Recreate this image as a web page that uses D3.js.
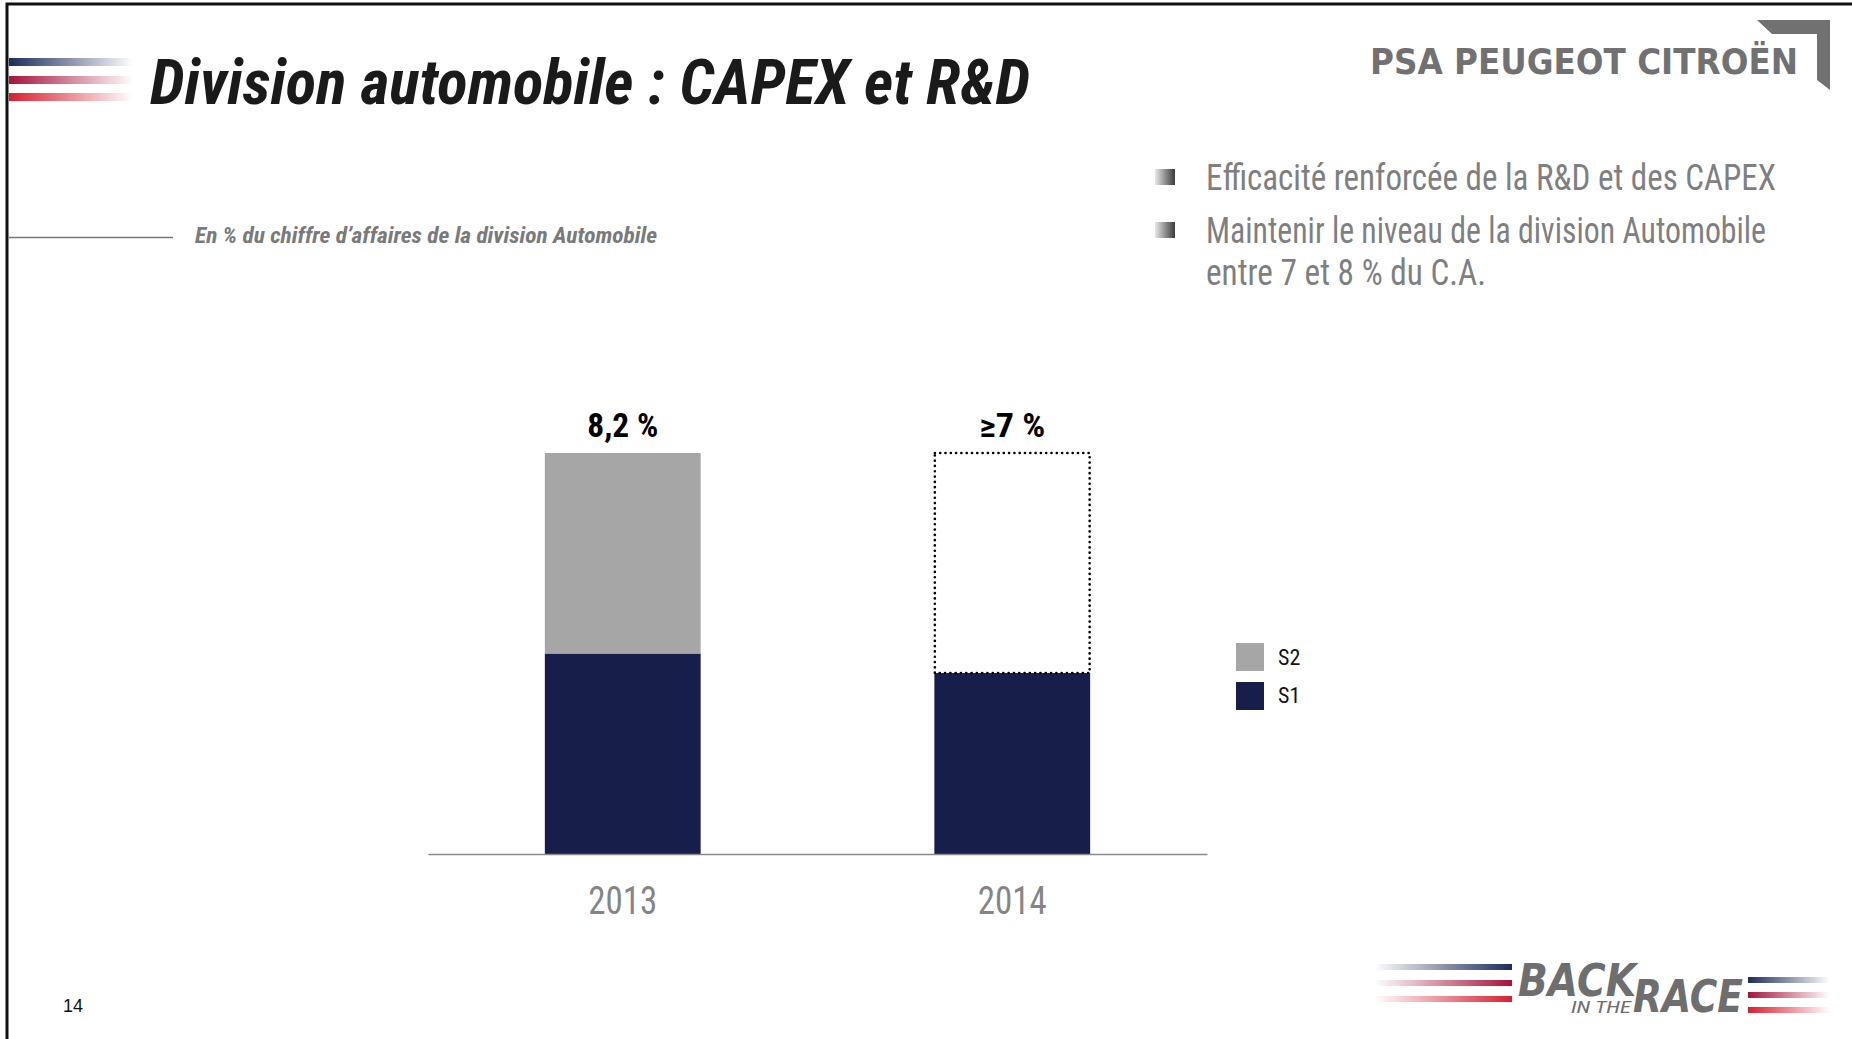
<!DOCTYPE html>
<html>
<head>
<meta charset="utf-8">
<script src="https://cdn.jsdelivr.net/npm/d3@7"></script>
<style>
  body { margin: 0; background: #fff; }
  svg { display: block; }
</style>
</head>
<body>
<svg id="chart" width="1852" height="1039"></svg>
<script>
// chart data
const years = ['2013', '2014'];
const s1 = [4.1, 3.7];
const s2 = [4.1, null];          // 2014 split not given
const targetTotal = [null, 8.2]; // dotted box drawn for 2014
const totalLabels = ['8,2 %', '≥7 %'];
const legendKeys = ['S2', 'S1'];
const bullets = [
  ['Efficacité renforcée de la R&D et des CAPEX'],
  ['Maintenir le niveau de la division Automobile', 'entre 7 et 8 % du C.A.'],
];

const W = 1852, H = 1039;
const narrow = "'Liberation Sans Narrow','Arial Narrow','Roboto Condensed',sans-serif";
const colors = { S1: '#171e4a', S2: '#a6a6a6' };

const svg = d3.select('#chart');
const defs = svg.append('defs');

// helper: squeeze text to a measured width
const fit = (sel, w) => sel.attr('textLength', w).attr('lengthAdjust', 'spacingAndGlyphs');

// fading stripe gradients
const stripe = (id, c, flip) => {
  const g = defs.append('linearGradient').attr('id', id);
  g.append('stop').attr('offset', '0%').attr('stop-color', c).attr('stop-opacity', flip ? 0 : 1);
  g.append('stop').attr('offset', '100%').attr('stop-color', c).attr('stop-opacity', flip ? 1 : 0);
};
stripe('gBlueR', '#1c2c5c', false);
stripe('gCrimR', '#a8123c', false);
stripe('gRedR', '#d8202e', false);
stripe('gBlueL', '#1c2c5c', true);
stripe('gCrimL', '#a8123c', true);
stripe('gRedL', '#d8202e', true);
const bg = defs.append('linearGradient').attr('id', 'gBullet');
bg.append('stop').attr('offset', '0%').attr('stop-color', '#e8e8e8');
bg.append('stop').attr('offset', '100%').attr('stop-color', '#3a3a3a');

// frame
svg.append('path')
  .attr('d', `M7,${H} V4 H${W}`)
  .attr('fill', 'none').attr('stroke', '#111').attr('stroke-width', 3);

// left flag stripes
[['gBlueR', 58], ['gCrimR', 76], ['gRedR', 93]].forEach(([g, y]) => {
  svg.append('rect').attr('x', 9).attr('y', y).attr('width', 124).attr('height', 8)
    .attr('fill', `url(#${g})`);
});

// title
svg.append('text')
  .attr('x', 150).attr('y', 104)
  .attr('font-family', narrow).attr('font-size', 62)
  .attr('font-weight', 'bold').attr('font-style', 'italic')
  .attr('fill', '#1a1a1a')
  .text('Division automobile : CAPEX et R&D')
  .call(fit, 880);

// PSA logo
svg.append('text')
  .attr('x', 1370).attr('y', 74)
  .attr('font-family', "'DejaVu Sans',sans-serif").attr('font-size', 35)
  .attr('font-weight', 'bold').attr('fill', '#717171')
  .text('PSA PEUGEOT CITROËN')
  .call(fit, 428);
svg.append('path')
  .attr('d', 'M1757,20 H1830 V90 L1817,80 V34 H1772 Z')
  .attr('fill', '#717171');

// subtitle
svg.append('line')
  .attr('x1', 9).attr('x2', 173).attr('y1', 237.5).attr('y2', 237.5)
  .attr('stroke', '#777').attr('stroke-width', 1.5);
svg.append('text')
  .attr('x', 195).attr('y', 243)
  .attr('font-family', narrow).attr('font-size', 22)
  .attr('font-weight', 'bold').attr('font-style', 'italic')
  .attr('fill', '#7a7a7a')
  .text('En % du chiffre d’affaires de la division Automobile')
  .call(fit, 462);

// bullet points
const bulletTop = [190, 243];
const bulletW = [[570], [560, 280]];
bullets.forEach((lines, i) => {
  svg.append('rect')
    .attr('x', 1155).attr('y', bulletTop[i] - 21).attr('width', 20).attr('height', 16)
    .attr('fill', 'url(#gBullet)');
  lines.forEach((t, j) => {
    svg.append('text')
      .attr('x', 1206).attr('y', bulletTop[i] + j * 42)
      .attr('font-family', narrow).attr('font-size', 36)
      .attr('fill', '#7f7f7f')
      .text(t)
      .call(fit, bulletW[i][j]);
  });
});

// chart
const x = d3.scaleBand()
  .domain(years)
  .range([428, 1207])
  .paddingInner(0.6)
  .paddingOuter(0.3);

const y = d3.scaleLinear()
  .domain([0, 8.2])
  .range([854, 453]);

const rows = years.map((yr, i) => ({
  year: yr, s1: s1[i], s2: s2[i], target: targetTotal[i], label: totalLabels[i],
}));

const plot = svg.append('g').attr('class', 'plot-area');

plot.selectAll('.bar-s1')
  .data(rows)
  .join('rect')
  .attr('class', 'bar-s1')
  .attr('x', (d) => x(d.year))
  .attr('width', x.bandwidth())
  .attr('y', (d) => y(d.s1))
  .attr('height', (d) => y(0) - y(d.s1))
  .attr('fill', colors.S1);

plot.selectAll('.bar-s2')
  .data(rows.filter((d) => d.s2 != null))
  .join('rect')
  .attr('class', 'bar-s2')
  .attr('x', (d) => x(d.year))
  .attr('width', x.bandwidth())
  .attr('y', (d) => y(d.s1 + d.s2))
  .attr('height', (d) => y(d.s1) - y(d.s1 + d.s2))
  .attr('fill', colors.S2);

plot.selectAll('.bar-target')
  .data(rows.filter((d) => d.target != null))
  .join('rect')
  .attr('class', 'bar-target')
  .attr('x', (d) => x(d.year) + 0.5)
  .attr('width', x.bandwidth() - 1)
  .attr('y', (d) => y(d.target))
  .attr('height', (d) => y(d.s1) - y(d.target))
  .attr('fill', 'none')
  .attr('stroke', '#000')
  .attr('stroke-width', 2.6)
  .attr('stroke-linecap', 'round')
  .attr('stroke-dasharray', '0.1,5.2');

plot.selectAll('.total-label')
  .data(rows)
  .join('text')
  .attr('class', 'total-label')
  .attr('x', (d) => x(d.year) + x.bandwidth() / 2)
  .attr('y', (d) => y(d.s2 != null ? d.s1 + d.s2 : d.target) - 16)
  .attr('text-anchor', 'middle')
  .attr('font-family', narrow).attr('font-size', 33)
  .attr('font-weight', 'bold').attr('fill', '#000')
  .text((d) => d.label)
  .each(function (d, i) { d3.select(this).call(fit, i === 0 ? 71 : 66); });

// x axis
const xAxis = svg.append('g')
  .attr('transform', `translate(0,${y(0)})`)
  .call(d3.axisBottom(x).tickSize(0).tickPadding(60));
xAxis.select('.domain').attr('stroke', '#8a8a8a').attr('stroke-width', 1.5);
xAxis.selectAll('text')
  .attr('font-family', narrow).attr('font-size', 38)
  .attr('fill', '#858585')
  .attr('dy', 0)
  .call(fit, 69);

// legend
const legend = svg.append('g').attr('transform', 'translate(1236,643)');
legend.selectAll('rect')
  .data(legendKeys)
  .join('rect')
  .attr('x', 0)
  .attr('y', (d, i) => i * 39)
  .attr('width', 28).attr('height', 28)
  .attr('fill', (d) => colors[d]);
legend.selectAll('text')
  .data(legendKeys)
  .join('text')
  .attr('x', 42)
  .attr('y', (d, i) => i * 38 + 22)
  .attr('font-family', narrow).attr('font-size', 22)
  .attr('fill', '#111')
  .text((d) => d);

// page number
svg.append('text')
  .attr('x', 63).attr('y', 1012)
  .attr('font-family', "'Liberation Sans',Arial,sans-serif").attr('font-size', 18)
  .attr('fill', '#111')
  .text('14');

// "Back in the race" logo
[['gBlueL', 964], ['gCrimL', 980], ['gRedL', 996]].forEach(([g, yy]) => {
  svg.append('rect').attr('x', 1374).attr('y', yy).attr('width', 138).attr('height', 6)
    .attr('fill', `url(#${g})`);
});
[['gBlueR', 977], ['gCrimR', 992], ['gRedR', 1007]].forEach(([g, yy]) => {
  svg.append('rect').attr('x', 1748).attr('y', yy).attr('width', 82).attr('height', 6)
    .attr('fill', `url(#${g})`);
});
const logoFont = "'DejaVu Sans',sans-serif";
svg.append('text')
  .attr('x', 1518).attr('y', 996)
  .attr('font-family', logoFont).attr('font-size', 44)
  .attr('font-weight', 'bold').attr('font-style', 'italic')
  .attr('fill', '#6e6e6e').text('BACK').call(fit, 118);
svg.append('text')
  .attr('x', 1571).attr('y', 1013)
  .attr('font-family', narrow).attr('font-size', 16)
  .attr('font-style', 'italic')
  .attr('fill', '#6e6e6e').text('IN THE').call(fit, 60);
svg.append('text')
  .attr('x', 1633).attr('y', 1012)
  .attr('font-family', logoFont).attr('font-size', 44)
  .attr('font-weight', 'bold').attr('font-style', 'italic')
  .attr('fill', '#6e6e6e').text('RACE').call(fit, 110);
</script>
</body>
</html>
